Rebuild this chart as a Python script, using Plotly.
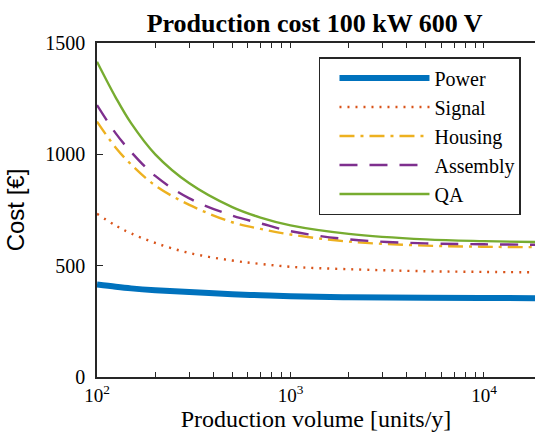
import plotly.graph_objects as go

volume = [100, 125, 150, 200, 300, 500, 700, 1000, 2000, 5000, 10000, 18400]
power = [415, 405, 398, 390, 382, 372, 367, 363, 358, 356, 355, 354]
signal = [733, 680, 645, 602, 557, 523, 508, 495, 484, 475, 472, 470]
housing = [1147, 1030, 955, 860, 773, 695, 665, 640, 608, 590, 585, 583]
assembly = [1221, 1094, 1011, 903, 802, 725, 690, 655, 618, 600, 596, 594]
qa = [1416, 1255, 1140, 1000, 870, 763, 716, 681, 643, 618, 610, 606]

x_tickvals = [100, 1000, 10000]
x_ticktext = ["10<sup>2</sup>", "10<sup>3</sup>", "10<sup>4</sup>"]
x_minorvals = [200, 300, 400, 500, 600, 700, 800, 900,
               2000, 3000, 4000, 5000, 6000, 7000, 8000, 9000, 20000]
y_tickvals = [0, 500, 1000, 1500]

series = [
    ("Power", power, "#0072BD", 6, "solid"),
    ("Signal", signal, "#D95319", 2.4, "2px,6px"),
    ("Housing", housing, "#EDB120", 2.4, "15px,6px,3px,6px"),
    ("Assembly", assembly, "#7E2F8E", 2.4, "18px,12px"),
    ("QA", qa, "#77AC30", 2.4, "solid"),
]

fig = go.Figure()
for name, vals, col, w, dash in series:
    fig.add_trace(go.Scatter(
        x=volume, y=vals, name=name, mode="lines",
        line=dict(color=col, width=w, dash=dash, shape="spline", smoothing=1.0),
    ))

serif = "Liberation Serif"
axcol = "#262626"
fig.update_layout(
    width=535, height=437,
    margin=dict(l=97, r=0, t=43, b=60),
    paper_bgcolor="white", plot_bgcolor="white",
    title=dict(text="<b>Production cost 100 kW 600 V</b>", x=0.588, xanchor="center",
               y=0.968, yanchor="top", font=dict(family=serif, size=26, color="black")),
    showlegend=True,
    legend=dict(x=0.968, xanchor="right", y=0.958, yanchor="top",
                bgcolor="white", bordercolor=axcol, borderwidth=1.5,
                font=dict(family=serif, size=20, color="black"),
                itemwidth=90, indentation=14, tracegroupgap=0),
    xaxis=dict(type="log", range=[2, 4.2636], tickvals=x_tickvals, ticktext=x_ticktext,
               showline=True, linecolor=axcol, linewidth=1.5, mirror="ticks",
               ticks="inside", ticklen=5, tickwidth=1.3, tickcolor=axcol,
               minor=dict(tickvals=x_minorvals, ticks="inside", ticklen=5, tickwidth=1.3,
                          tickcolor=axcol, showgrid=False),
               showgrid=False, zeroline=False,
               tickfont=dict(family=serif, size=19, color="black"),
               title=dict(text="Production volume [units/y]", standoff=6,
                          font=dict(family=serif, size=24, color="black"))),
    yaxis=dict(range=[0, 1500], tickvals=y_tickvals,
               showline=True, linecolor=axcol, linewidth=1.5,
               ticks="inside", ticklen=6, tickwidth=1.3, tickcolor=axcol,
               showgrid=False, zeroline=False, ticklabelstandoff=6,
               tickfont=dict(family=serif, size=20, color="black"),
               title=dict(text="Cost [€]", standoff=14,
                          font=dict(family="Liberation Sans", size=24, color="black"))),
)
fig.write_html("out.html")
